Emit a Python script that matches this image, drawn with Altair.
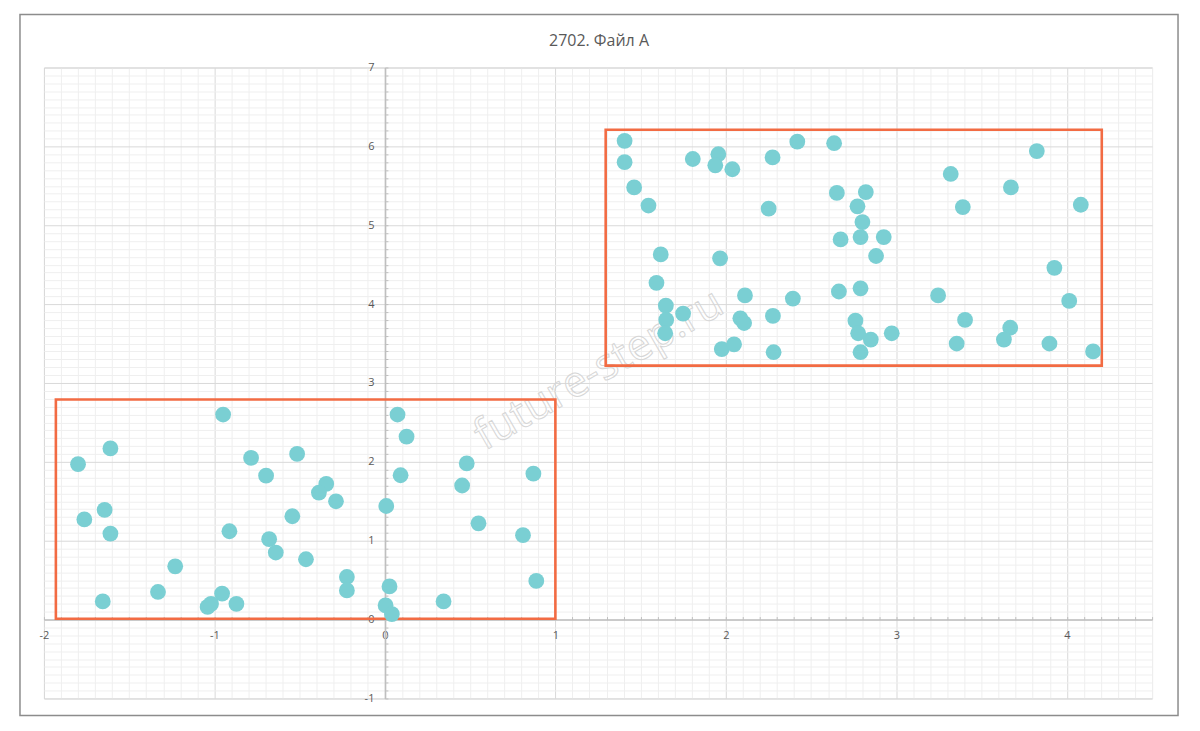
import altair as alt
import pandas as pd

title_text = ["2702. Файл A"]
watermark = ["future-step.ru"]

# lower-left cluster
low_x = [-0.949, -1.61, -1.80, -0.785, -0.697, -0.515, -1.644, -1.763, -1.61, -0.912,
         -0.543, -0.679, -0.640, -1.23, -1.331, -1.655, -0.955, -1.04, -1.02, -0.871,
         -0.344, -0.387, -0.287, -0.463, -0.223, -0.223, 0.074, 0.127, 0.092, 0.008,
         0.027, 0.004, 0.041, 0.48, 0.453, 0.549, 0.344, 0.871, 0.81, 0.888]
low_y = [2.60, 2.17, 1.97, 2.05, 1.825, 2.10, 1.39, 1.27, 1.09, 1.12,
         1.31, 1.02, 0.85, 0.675, 0.35, 0.23, 0.33, 0.16, 0.20, 0.20,
         1.72, 1.61, 1.50, 0.765, 0.54, 0.37, 2.60, 2.32, 1.83, 1.44,
         0.42, 0.18, 0.07, 1.98, 1.70, 1.22, 0.23, 1.85, 1.07, 0.49]

# upper-right cluster
up_x = [1.406, 1.406, 1.462, 1.546, 1.806, 1.956, 1.938, 2.038, 2.274, 2.419,
        2.635, 2.251, 2.651, 1.618, 1.966, 1.593, 2.112, 2.393, 2.663, 1.648,
        1.749, 1.65, 1.644, 2.085, 2.107, 2.276, 1.976, 2.048, 2.28, 2.673,
        2.821, 2.772, 2.801, 2.79, 2.926, 2.881, 2.79, 2.76, 2.776, 2.85,
        2.79, 2.973, 3.319, 3.39, 3.245, 3.403, 3.354, 3.672, 3.824, 4.082,
        3.927, 4.014, 3.668, 3.631, 3.898, 4.154]
up_y = [6.07, 5.80, 5.48, 5.25, 5.84, 5.90, 5.76, 5.71, 5.86, 6.06,
        6.04, 5.21, 5.41, 4.63, 4.58, 4.27, 4.11, 4.07, 4.16, 3.98,
        3.88, 3.80, 3.63, 3.82, 3.76, 3.85, 3.43, 3.49, 3.39, 4.82,
        5.42, 5.24, 5.04, 4.85, 4.85, 4.61, 4.20, 3.79, 3.63, 3.55,
        3.39, 3.63, 5.65, 5.23, 4.11, 3.80, 3.50, 5.48, 5.94, 5.26,
        4.46, 4.04, 3.70, 3.55, 3.50, 3.40]

# red frames
box_x1 = [-1.93, 1.295]
box_x2 = [1.0, 4.205]
box_y1 = [0.01, 3.22]
box_y2 = [2.79, 6.21]

x_ticks = [round(-2 + i * 0.1, 1) for i in range(66)]
y_ticks = [round(-1 + i * 0.1, 1) for i in range(81)]

W, H = 1110, 632
x_zero_px = W * 2 / 6.5
y_zero_px = H * 7 / 8

is_int = "abs(datum.value - round(datum.value)) < 0.001"
label_expr = f"{is_int} ? ('' + round(datum.value)) : ''"
grid_col = alt.condition(is_int, alt.value("#d9d9d9"), alt.value("#efefef"))

FONT = "Open Sans"

x_axis = alt.Axis(
    orient="top", offset=-y_zero_px, values=x_ticks, grid=True, gridColor=grid_col,
    gridWidth=1, labelExpr=label_expr, labelBaseline="top",
    labelAlign="center", labelPadding=-13, tickSize=3, tickColor="#bfbfbf",
    domainColor="#bfbfbf", domainWidth=1.5, labelColor="#595959", labelFont=FONT,
    labelFontSize=11, labelOverlap=False, labelFlush=False, title=None,
)
y_axis = alt.Axis(
    orient="right", offset=-(W - x_zero_px), values=y_ticks, grid=True, gridColor=grid_col,
    gridWidth=1, labelExpr=label_expr, labelBaseline="middle",
    labelAlign="right", labelPadding=-14, tickSize=3, tickColor="#bfbfbf",
    domainColor="#bfbfbf", domainWidth=1.5, labelColor="#595959", labelFont=FONT,
    labelFontSize=11, labelOverlap=False, labelFlush=False, title=None,
)

x_scale = alt.Scale(domain=[-2, 4.5], nice=False, zero=False)
y_scale = alt.Scale(domain=[-1, 7], nice=False, zero=False)

X = alt.X("x:Q", scale=x_scale, axis=x_axis)
Y = alt.Y("y:Q", scale=y_scale, axis=y_axis)

pts = pd.DataFrame({"x": low_x + up_x, "y": low_y + up_y})
boxes = pd.DataFrame({"x": box_x1, "x2": box_x2, "y": box_y1, "y2": box_y2})

points = alt.Chart(pts).mark_circle(size=250, color="#7ACFD3", opacity=1).encode(x=X, y=Y)

frames = alt.Chart(boxes).mark_rect(
    filled=False, stroke="#F26B43", strokeWidth=2.6
).encode(x=X, x2="x2:Q", y=Y, y2="y2:Q")

wm = alt.Chart(pd.DataFrame({"t": watermark})).mark_text(
    font=FONT, fontSize=43, angle=330, fillOpacity=0, stroke="#d6d6d6", strokeWidth=1,
    align="center", baseline="middle"
).encode(text="t:N", x=alt.value(556), y=alt.value(303))

title = alt.Chart(pd.DataFrame({"t": title_text})).mark_text(
    font=FONT, fontSize=16, color="#595959", align="center", baseline="middle"
).encode(text="t:N", x=alt.value(556), y=alt.value(-27))

outer = alt.Chart(pd.DataFrame({"a": [0]})).mark_rect(
    filled=False, stroke="#8c8c8c", strokeWidth=1.5
).encode(x=alt.value(-24), x2=alt.value(1136), y=alt.value(-53), y2=alt.value(649))

chart = alt.layer(wm, frames, points, title, outer).properties(
    width=W, height=H,
    autosize=alt.AutoSizeParams(type="none"),
    padding={"left": 36, "top": 59, "right": 40, "bottom": 25},
).configure_view(stroke="#d9d9d9")

chart.save("out.html", embed_options={"renderer": "svg", "actions": False})
